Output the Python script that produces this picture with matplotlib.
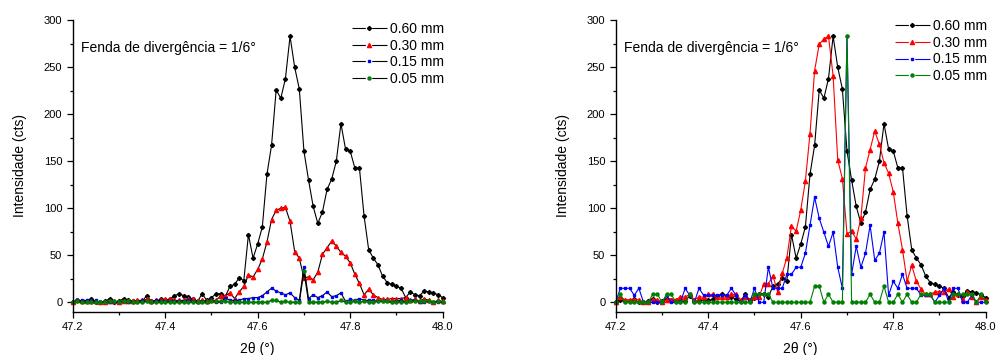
import numpy as np
import matplotlib
matplotlib.use("Agg")
import matplotlib.pyplot as plt
from matplotlib.lines import Line2D
from matplotlib.ticker import MultipleLocator

plt.rcParams['font.family'] = ['Liberation Sans', 'DejaVu Sans']

# 2theta from 47.20 to 48.00 in 0.01 steps
two_theta = np.round(np.arange(47.20, 48.001, 0.01), 2)

# counts
cts_060 = [0, 2, 1, 1, 3, 0, 0, 1, 4, 0, 1, 4, 2, 1, 1, 1, 7, 1, 1, 3,
           2, 3, 7, 9, 7, 6, 3, 1, 9, 2, 5, 9, 9, 6, 17, 19, 26, 23, 72, 47,
           62, 80, 136, 167, 226, 217, 238, 283, 250, 227, 161, 130, 102, 84, 96, 120, 131, 150, 190, 163,
           161, 143, 143, 92, 56, 47, 40, 28, 21, 19, 17, 15, 5, 11, 8, 7, 12, 11, 10, 8, 5]
cts_030 = [0, 2, 1, 1, 1, 1, 0, 0, 1, 1, 0, 1, 1, 1, 2, 2, 3, 1, 2, 2,
           3, 3, 2, 2, 2, 3, 3, 1, 2, 1, 2, 2, 7, 7, 10, 4, 11, 17, 29, 27,
           35, 46, 64, 88, 98, 100, 101, 86, 54, 47, 26, 27, 24, 32, 51, 58, 65, 60, 53, 49,
           42, 30, 20, 8, 14, 8, 5, 3, 3, 4, 4, 4, 5, 2, 3, 1, 4, 2, 0, 2, 1]
cts_015 = [0, 2, 2, 2, 1, 2, 0, 0, 0, 0, 0, 1, 0, 0, 0, 2, 1, 0, 2, 1,
           1, 1, 1, 1, 1, 2, 1, 0, 1, 0, 2, 0, 0, 5, 2, 2, 2, 4, 4, 5,
           5, 7, 11, 15, 12, 10, 8, 10, 5, 2, 38, 4, 8, 5, 7, 11, 6, 7, 10, 1,
           3, 2, 4, 2, 2, 2, 1, 1, 1, 0, 1, 2, 0, 2, 2, 0, 0, 1, 0, 0, 0]
cts_005 = [0, 1, 0, 0, 0, 0, 0, 0, 1, 1, 0, 1, 1, 0, 0, 0, 1, 0, 0, 0,
           0, 0, 0, 0, 0, 0, 0, 0, 0, 0, 1, 1, 1, 1, 0, 0, 0, 0, 0, 0,
           0, 0, 0, 2, 2, 0, 1, 0, 0, 0, 33, 0, 0, 0, 0, 1, 0, 0, 2, 0,
           0, 1, 0, 1, 0, 0, 1, 1, 1, 0, 0, 0, 0, 1, 1, 1, 1, 1, 0, 1, 0]

labels = ['0.60 mm', '0.30 mm', '0.15 mm', '0.05 mm']
colors = ['black', '#FF0000', '#0000FF', '#008000']
markers = ['D', '^', 's', 'o']
msizes = [2.1, 3.0, 2.0, 2.2]
series = [np.array(cts_060), np.array(cts_030), np.array(cts_015), np.array(cts_005)]

# right panel: every curve scaled to the maximum of the 0.60 mm curve
ref_max = series[0].max()
series_norm = [s * ref_max / s.max() for s in series]

fig = plt.figure(figsize=(9.97, 3.55), dpi=100)
ax1 = fig.add_axes([0.0729, 0.1220, 0.3711, 0.8208])
ax2 = fig.add_axes([0.6176, 0.1220, 0.3711, 0.8208])

LW = 0.8
# legend line: dash, gap round the marker, dash (Origin style)
dash = (0, (9.6 / LW, 4.6 / LW, 11.0 / LW, 2.0 / LW))


def style_axes(ax):
    ax.set_xlim(47.2, 48.0)
    ax.set_ylim(-10, 300)
    ax.spines['top'].set_visible(False)
    ax.spines['right'].set_visible(False)
    for s in ['left', 'bottom']:
        ax.spines[s].set_linewidth(1.0)
    ax.xaxis.set_major_locator(MultipleLocator(0.2))
    ax.xaxis.set_minor_locator(MultipleLocator(0.1))
    ax.yaxis.set_major_locator(MultipleLocator(50))
    ax.yaxis.set_minor_locator(MultipleLocator(25))
    ax.tick_params(which='major', direction='out', length=4.5, width=0.9, labelsize=8, pad=3)
    ax.tick_params(which='minor', direction='out', length=2.5, width=0.9)
    ax.set_xticks([47.2, 47.4, 47.6, 47.8, 48.0])
    ax.set_xticklabels(['47.2', '47.4', '47.6', '47.8', '48.0'])
    ax.set_ylabel('Intensidade (cts)', fontsize=10, labelpad=12)
    ax.set_xlabel('2θ (°)', fontsize=10, labelpad=7)


handles1, handles2 = [], []
for s, sn, lab, c, m, ms in zip(series, series_norm, labels, colors, markers, msizes):
    ax1.plot(two_theta, s, color='black', lw=LW, marker=m, ms=ms,
             mfc=c, mec=c, clip_on=False)
    ax2.plot(two_theta, sn, color=c, lw=LW, marker=m, ms=ms,
             mfc=c, mec=c, clip_on=False)
    handles1.append(Line2D([], [], color='black', lw=LW, ls=dash,
                           marker=m, ms=ms, mfc=c, mec=c))
    handles2.append(Line2D([], [], color=c, lw=LW, ls=dash,
                           marker=m, ms=ms, mfc=c, mec=c))

for ax, hs, ytop in [(ax1, handles1, 0.995), (ax2, handles2, 1.005)]:
    style_axes(ax)
    ax.legend(hs, labels, loc='upper right', bbox_to_anchor=(1.005, ytop),
              frameon=False, fontsize=10, handlelength=2.52, handletextpad=0.25,
              labelspacing=0.2, borderpad=0, borderaxespad=0)
    ax.text(0.022, 0.905, 'Fenda de divergência = 1/6°', transform=ax.transAxes,
            fontsize=10, va='center', ha='left')

fig.savefig('out.png', dpi=100)
